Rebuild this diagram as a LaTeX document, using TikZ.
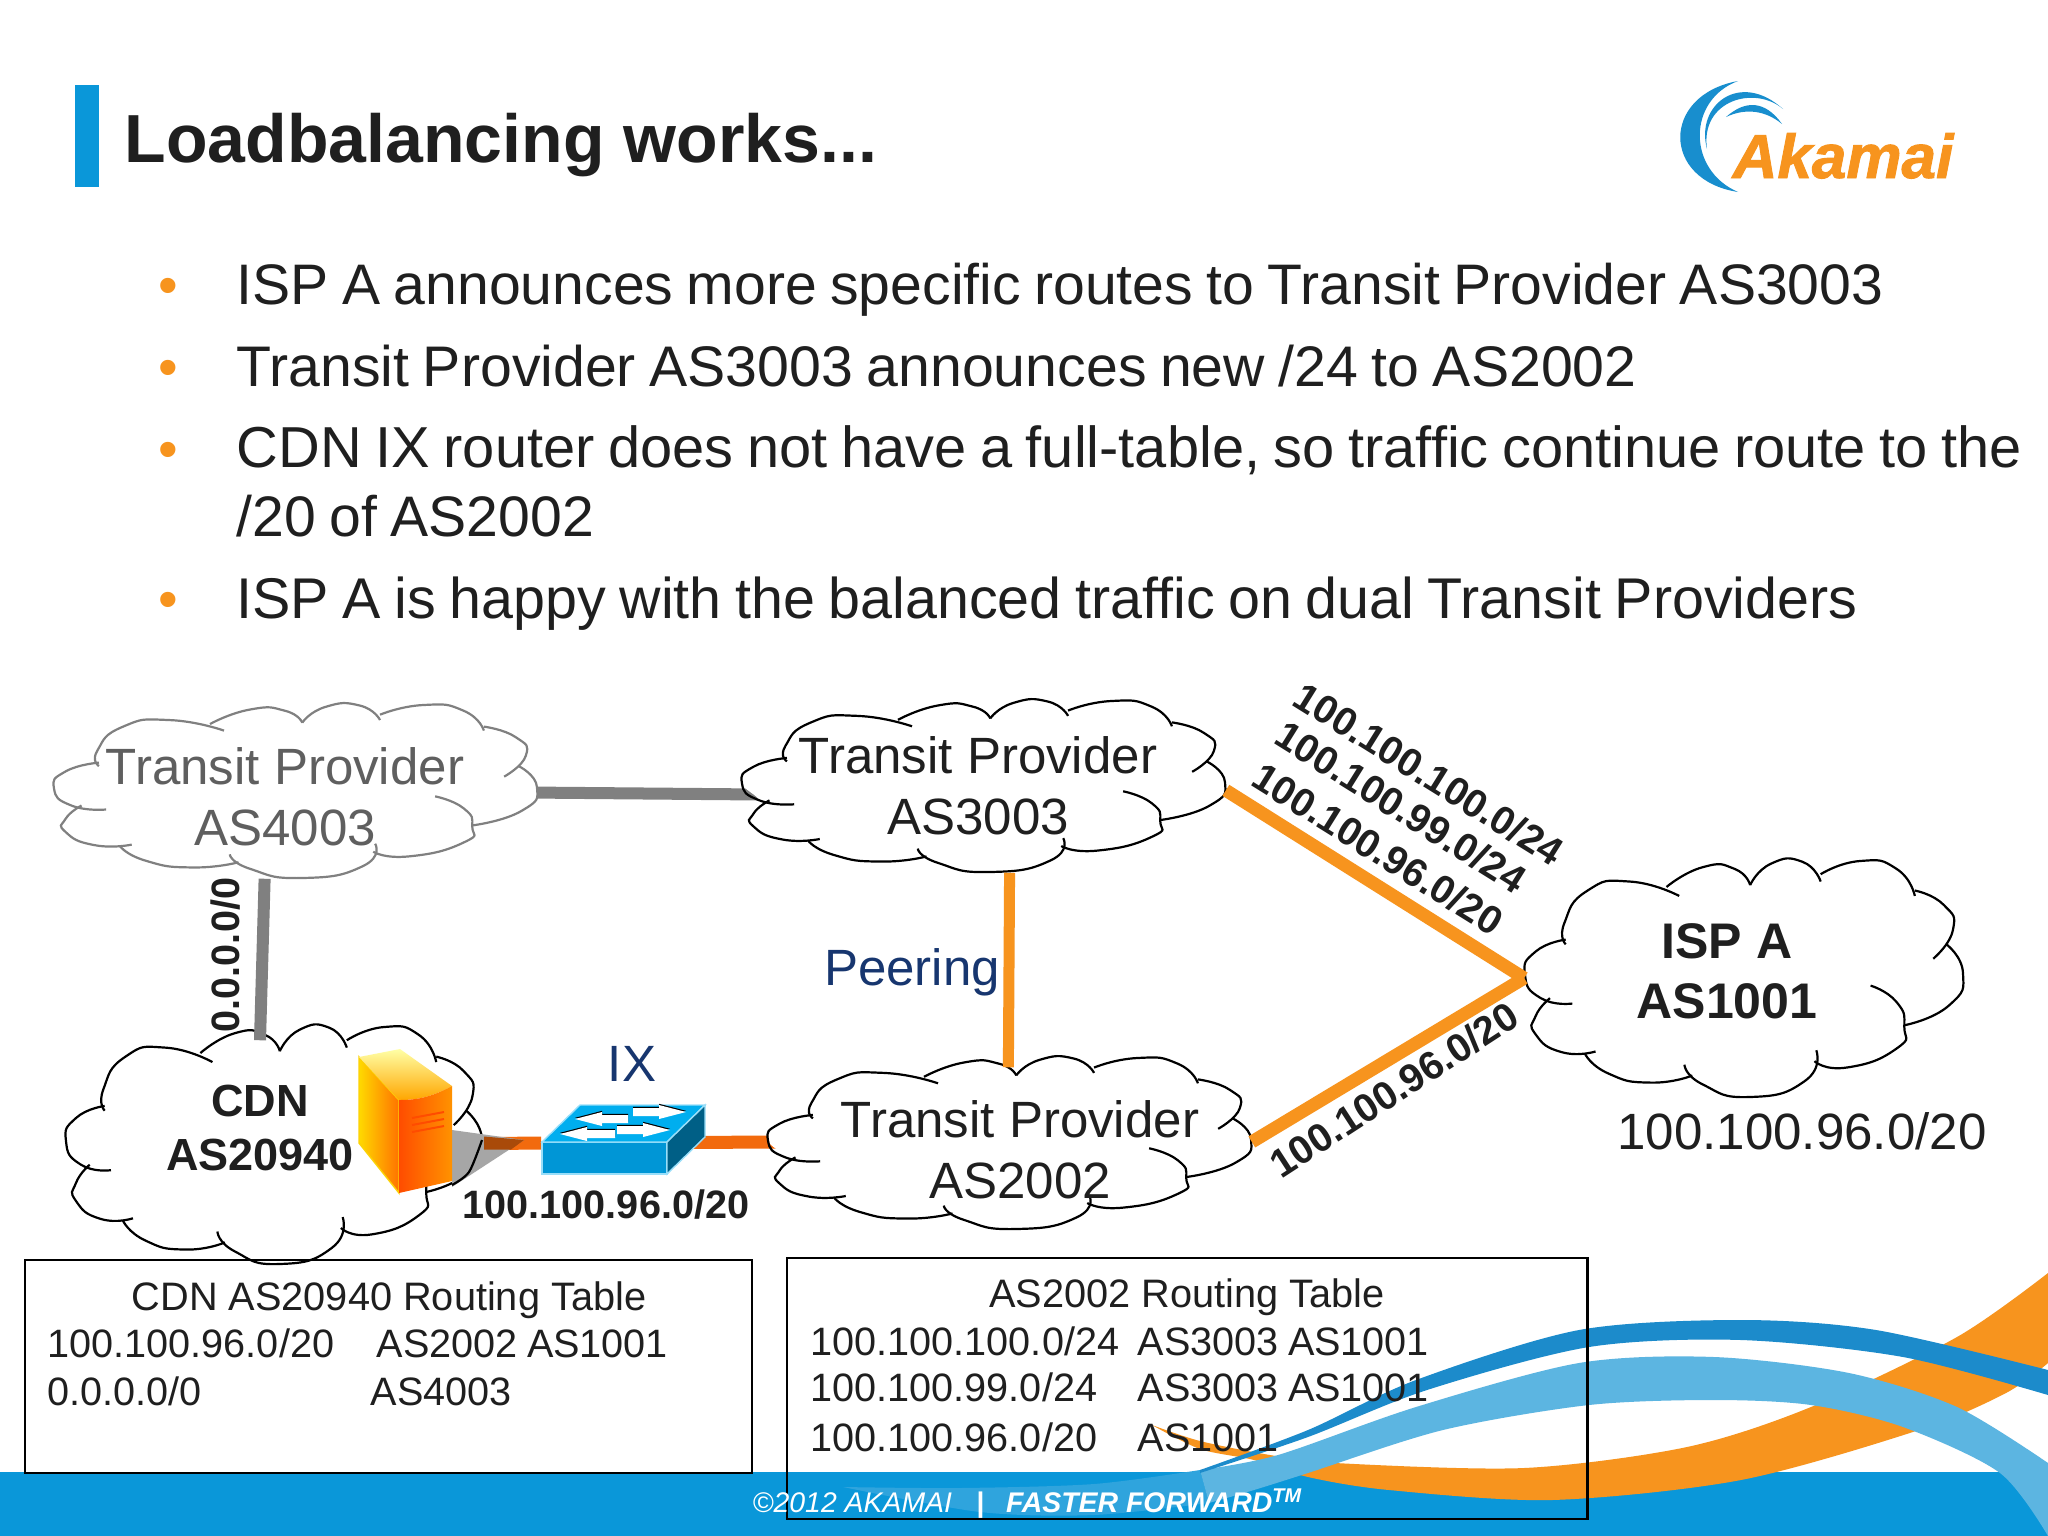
\documentclass[tikz,border=0pt]{standalone}
\usepackage{fontspec}
\setmainfont{Liberation Sans}
\newfontfamily\bodyfont[WordSpace=0.85]{Liberation Sans}
\pgfdeclarelayer{back}
\pgfsetlayers{back,main}
\definecolor{akblue}{HTML}{0A97D9}
\definecolor{akdark}{HTML}{1C8BCB}
\definecolor{aklight}{HTML}{5CB5E1}
\definecolor{akorange}{HTML}{F7941E}
\definecolor{ixorange}{HTML}{F26A0D}
\definecolor{linegray}{HTML}{808080}
\definecolor{cloudgray}{HTML}{5F5F5F}
\definecolor{labelnavy}{HTML}{17366F}
\definecolor{switchtop}{HTML}{00AEEF}
\definecolor{switchfront}{HTML}{0096D6}
\definecolor{switchside}{HTML}{005F86}
% font size given in pixels of the 2048 wide page
\newcommand{\pxfont}[1]{\fontsize{\the\dimexpr #1\dimexpr 0.2845pt\relax\relax}{\the\dimexpr #1\dimexpr 0.3414pt\relax\relax}\selectfont}
% x, y, width, height, colour
\newcommand{\cloudoutline}[5]{%
  \begin{scope}[shift={(#1,#2)},xscale=#3/100,yscale=#4/100]
    \fill[white] plot[smooth cycle,tension=.6] coordinates {(9,26.2)(14.3,12.5)(23.9,8.7)(32.3,11)(40.6,2.6)(47.8,3.3)(51.4,10.2)(56.2,1.1)(63.3,.3)(67.5,6)(76.5,0)(84.8,3.3)(89,12.5)(95.6,18.6)(97.7,29.2)(96.2,35.3)(100,47.5)(96.8,61.2)(86.6,69.6)(84.8,79.5)(73.5,87.5)(66.5,86)(63.9,93.2)(51.4,100)(40.6,94.7)(38.2,90.9)(28.7,93.9)(19.1,90.1)(13.7,81.7)(8.4,81)(2.4,73.4)(2.4,65.8)(3.6,58.1)(0,48.2)(2.4,38.4)(9.3,33.3)};
    \begin{scope}[draw=#5,line width=0.022cm,smooth,tension=1]
      \draw plot coordinates {(9.3,35.3)(9,26.2)(14.3,12.5)(23.9,8.7)(35.2,14.8)};
      \draw plot coordinates {(32.3,11)(40.6,2.6)(47.8,3.3)(51.4,10.2)};
      \draw plot coordinates {(51.4,10.2)(56.2,1.1)(63.3,.3)(67.5,8.7)};
      \draw plot coordinates {(67.5,5.6)(76.5,0)(84.8,3.3)(89,14.8)};
      \draw plot coordinates {(89,12.5)(95.6,18.6)(97.7,29.2)(93.2,41.4)};
      \draw plot coordinates {(96.2,35.3)(100,47.5)(96.8,61.2)(86.6,69.6)};
      \draw plot coordinates {(78.9,52.8)(84.8,59.7)(86.6,70.3)(84.8,79.5)(73.5,87.5)(66.1,84.8)};
      \draw plot coordinates {(66.5,80.2)(63.9,93.2)(51.4,100)(40.6,94.7)(36.4,86.3)};
      \draw plot coordinates {(38.2,90.9)(28.7,93.9)(19.1,90.1)(13.7,81.7)};
      \draw plot coordinates {(16.1,80.7)(8.4,81)(2.4,73.4)(2.4,65.8)(5.7,58.1)};
      \draw plot coordinates {(10.8,60.4)(3.6,58.1)(0,48.2)(2.4,38.4)(9.3,33.3)};
    \end{scope}
  \end{scope}}
\tikzset{
  every node/.style={text=black!88},
  cloudnode/.style={rectangle,inner sep=0pt,align=center},
  transitnode/.style={cloudnode,font=\pxfont{51}},
  boldnode/.style={cloudnode,font=\pxfont{50}\bfseries},
  bulletline/.style={anchor=base west,font=\bodyfont\pxfont{57.1},align=left,inner sep=0pt},
  bulletdot/.style={anchor=base,font=\pxfont{56},text=akorange,inner sep=0pt},
  prefixlabel/.style={font=\pxfont{39.6}\bfseries,inner sep=0pt},
  tablerow/.style={anchor=base west,font=\bodyfont\pxfont{39.6},inner sep=0pt},
  tablehead/.style={anchor=base,font=\pxfont{39.7},inner sep=0pt},
  tablebox/.style={rectangle,draw=black,line width=0.025cm,inner sep=0pt},
  grayline/.style={draw=linegray,line width=0.12cm},
  peerline/.style={draw=akorange,line width=0.11cm},
  transitline/.style={draw=akorange,line width=0.13cm},
  ixline/.style={draw=ixorange,line width=0.13cm}
}
\begin{document}
\begin{tikzpicture}[x=0.01cm,y=-0.01cm]
  \useasboundingbox (0,0) rectangle (2048,1536);
  % slide furniture
  \begin{pgfonlayer}{back}
    \fill[white] (0,0) rectangle (2048,1536);
    \fill[akblue] (0,1472) rectangle (2048,1536);
    \fill[akblue!55!aklight] plot[smooth] coordinates {(843,1487)(960,1488)(1094,1484)(1200,1470)}
      -- plot[smooth] coordinates {(1209,1503)(1094,1515)(980,1512)(843,1487)} -- cycle;
    \fill[akorange] plot[smooth] coordinates {(1152,1425)(1200,1441)(1270,1455)(1335,1463)(1524,1468)(1687,1447)(1811,1407)(1957,1337)(2048,1273)}
      -- plot[smooth] coordinates {(2048,1363)(2006,1393)(1919,1430)(1741,1480)(1552,1500)(1389,1490)(1308,1477)(1254,1460)(1200,1449)(1152,1425)} -- cycle;
    \fill[aklight] plot[smooth] coordinates {(1200,1470)(1278,1455)(1416,1407)(1579,1363)(1714,1357)(1849,1373)(1957,1407)(2048,1463)}
      -- plot[smooth] coordinates {(2048,1536)(2000,1473)(1903,1427)(1811,1405)(1714,1400)(1589,1405)(1443,1430)(1308,1473)(1254,1490)(1209,1503)} -- cycle;
    \fill[akdark] plot[smooth] coordinates {(1200,1470)(1308,1430)(1416,1380)(1579,1330)(1741,1320)(1876,1330)(2048,1370)}
      -- plot[smooth] coordinates {(2048,1395)(1903,1357)(1741,1340)(1589,1347)(1427,1390)(1308,1437)(1200,1473)} -- cycle;
  \end{pgfonlayer}
  \fill[akblue] (75,85) rectangle (99,187);
  \fill[akdark!80!akblue] (1738,81) .. controls (1661,95) and (1661,180) .. (1738,192)
    .. controls (1687,170) and (1687,100) .. (1738,81);
  \fill[akdark!80!akblue] (1707,149) .. controls (1695,105) and (1740,70) .. (1783,109)
    .. controls (1755,85) and (1700,100) .. (1707,149);
  \fill[akdark!80!akblue] (1726,117) .. controls (1745,100) and (1765,100) .. (1782,124)
    .. controls (1765,110) and (1745,108) .. (1726,117);
  \draw
    (124,162) node[anchor=base west,font=\pxfont{68}\bfseries,inner sep=0pt] (title){Loadbalancing works...}
    (1843,178) node[anchor=base,font=\pxfont{62}\bfseries\itshape\addfontfeature{FakeBold=1.5},text=akorange,inner sep=0pt] (logo){Akamai}
    (168,304) node[bulletdot] (dot1){•}
    (168,386) node[bulletdot] (dot2){•}
    (168,468) node[bulletdot] (dot3){•}
    (168,618) node[bulletdot] (dot4){•}
    (236,304) node[bulletline] (line1){ISP A announces more specific routes to Transit Provider AS3003}
    (236,386) node[bulletline,font=\bodyfont\pxfont{57.2}] (line2){Transit Provider AS3003 announces new /24 to AS2002}
    (236,536) node[bulletline] (line3){{\pxfont{57.75}CDN IX router does not have a full-table, so traffic continue route to the}\\/20 of AS2002}
    (236,618) node[bulletline,font=\bodyfont\pxfont{57.4}] (line4){ISP A is happy with the balanced traffic on dual Transit Providers};
  % the clouds with their names
  \draw
    (285,797) node[transitnode,text=cloudgray,minimum width=5.04cm,minimum height=1.62cm] (tp4003){Transit Provider\\AS4003}
    (978,786) node[transitnode,minimum width=4.94cm,minimum height=1.72cm] (tp3003){Transit Provider\\AS3003}
    (1020,1150) node[transitnode,minimum width=4.62cm,minimum height=1.64cm] (tp2002){Transit Provider\\AS2002}
    (260,1128) node[boldnode,font=\pxfont{45}\bfseries,minimum width=4.44cm,minimum height=1.74cm] (cdn){CDN\\AS20940}
    (1727,971) node[boldnode,minimum width=4.04cm,minimum height=2cm] (ispa){ISP A\\AS1001}
    (624,1143) node[rectangle,minimum width=1.64cm,minimum height=0.64cm,inner sep=0pt] (switch){};
  \begin{pgfonlayer}{back}
    \draw[ixline] (cdn.-4) to (switch.west);
    \draw[ixline] ([xshift=-30]switch.east) to (tp2002.178);
    \draw[grayline] (tp4003.1.4) to ([xshift=14]tp3003.182);
    \cloudoutline{54}{705}{483}{173}{linegray}
    \cloudoutline{742}{701}{483}{171}{black}
    \cloudoutline{768}{1058}{483}{171}{black}
    \cloudoutline{66}{1027}{416}{237}{black}
    \cloudoutline{1525}{861}{438}{236}{black}
  \end{pgfonlayer}
  \begin{scope}[-]
    \draw[grayline] (tp4003.-104) to (cdn.north);
    \draw[peerline] (tp3003.-70) to (tp2002.98);
    \draw[transitline] (tp3003.-1) to (ispa.182);
    \draw[transitline] (tp2002.2) to (ispa.182);
  \end{scope}
  % server
  \fill[gray!70] (452,1130) -- (524,1140) -- (452,1187) -- cycle;
  \fill[ixorange!70!black] (484,1136.5) -- (524,1140) -- (511,1149.5) -- (484,1149.5) -- cycle;
  \draw[black,line width=0.022cm] plot[smooth] coordinates {(482,1140)(469,1172)(452,1185)};
  \shade[left color=yellow!70!orange,right color=orange!90!red,draw=yellow!70!orange] (359,1057) -- (399,1100) -- (399,1193) -- (359,1143) -- cycle;
  \shade[top color=yellow!35!white,bottom color=orange!70!yellow] (359,1057) -- (400,1049) -- (452,1086) .. controls (430,1098) and (415,1100) .. (399,1100) -- cycle;
  \shade[left color=orange!60!red,right color=orange!85!yellow] (399,1100) .. controls (415,1100) and (430,1098) .. (452,1086) -- (452,1181) -- (399,1193) -- cycle;
  \foreach \y in {1118,1125,1132}
    \draw[orange!60!red,line width=0.02cm] (412,\y) -- (444,\y-6);
  % switch
  \fill[switchfront,draw=cyan!40] (542,1142) rectangle (667,1174);
  \fill[switchtop,draw=cyan!40] (542,1142) -- (580,1105) -- (705,1105) -- (667,1142) -- cycle;
  \fill[switchside,draw=cyan!40] (667,1142) -- (705,1105) -- (705,1137) -- (667,1174) -- cycle;
  \foreach \x/\y/\d/\l in {575/1119/1/53,686/1112/-1/53,670/1130/-1/53,560/1134/1/55} {
    \fill[black,shift={(\x,\y-1.2)},xscale=\d] (0,0) -- (27,-7) -- (27,-4) -- (\l,-4) -- (\l,4) -- (27,4) -- (27,7) -- cycle;
    \fill[white,shift={(\x,\y)},xscale=\d] (0,0) -- (27,-7) -- (27,-4) -- (\l,-4) -- (\l,4) -- (27,4) -- (27,7) -- cycle;
  }
  % labels on the links
  \draw
    (912,985) node[anchor=base,font=\pxfont{51},text=labelnavy,inner sep=0pt] (peering){Peering}
    (632,1081) node[anchor=base,font=\pxfont{51},text=labelnavy,inner sep=0pt] (ix){IX}
    (606,1205) node[prefixlabel] (ixprefix){100.100.96.0/20}
    (226,955) node[prefixlabel,rotate=90] (defroute){0.0.0.0/0}
    (1429,774) node[prefixlabel,rotate=-32] (route100){100.100.100.0/24}
    (1401,807) node[prefixlabel,rotate=-32] (route99){100.100.99.0/24}
    (1378,849) node[prefixlabel,rotate=-32] (route96){100.100.96.0/20}
    (1394,1090) node[prefixlabel,rotate=33] (route2002){100.100.96.0/20}
    (1802,1131) node[font=\pxfont{51},inner sep=0pt] (ispprefix){100.100.96.0/20};
  % routing tables
  \draw
    (388.5,1366.5) node[tablebox,minimum width=7.27cm,minimum height=2.13cm] (cdntable){}
    (1187,1388.5) node[tablebox,minimum width=8cm,minimum height=2.61cm] (as2002table){}
    (389,1310) node[tablehead] (cdnhead){CDN AS20940 Routing Table}
    (47,1357) node[tablerow] (cdnrow1){100.100.96.0/20}
    (376,1357) node[tablerow] (cdnrow1b){AS2002 AS1001}
    (47,1405) node[tablerow] (cdnrow2){0.0.0.0/0}
    (370,1405) node[tablerow] (cdnrow2b){AS4003}
    (1187,1307) node[tablehead] (ashead){AS2002 Routing Table}
    (810,1355) node[tablerow] (asrow1){100.100.100.0/24}
    (1137,1355) node[tablerow] (asrow1b){AS3003 AS1001}
    (810,1401) node[tablerow] (asrow2){100.100.99.0/24}
    (1137,1401) node[tablerow] (asrow2b){AS3003 AS1001}
    (810,1451) node[tablerow] (asrow3){100.100.96.0/20}
    (1137,1451) node[tablerow] (asrow3b){AS1001};
  \draw (752,1512) node[anchor=base west,font=\pxfont{28.4}\itshape,text=white,inner sep=0pt] (footer){©2012 AKAMAI\hspace{0.24cm}\textbf{|}\hspace{0.22cm}\textbf{FASTER FORWARD\textsuperscript{TM}}};
\end{tikzpicture}
\end{document}
